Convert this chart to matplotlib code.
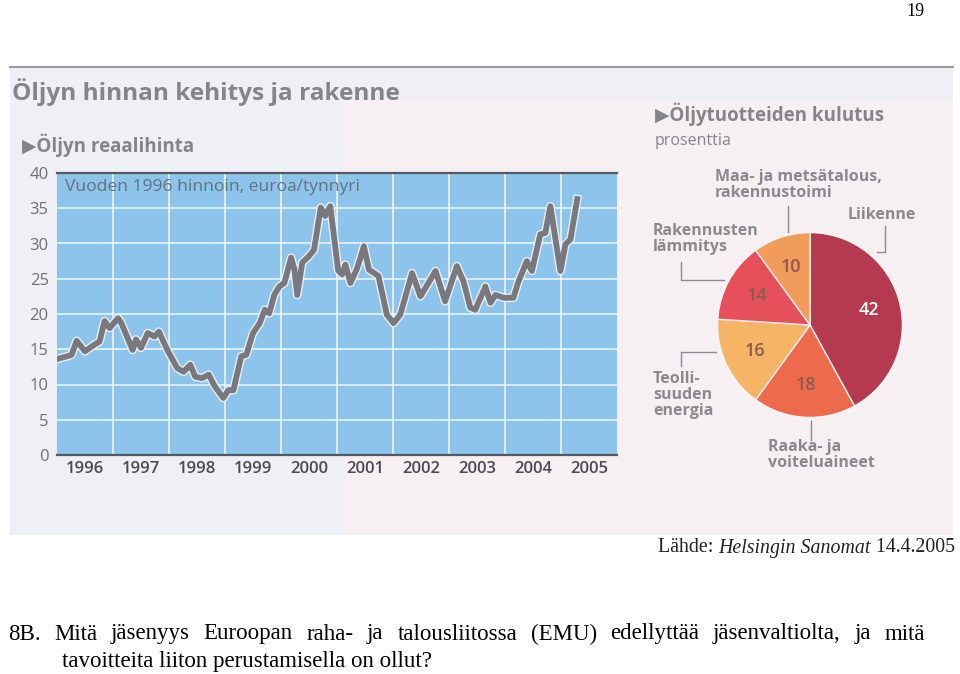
import numpy as np
import matplotlib
matplotlib.use('Agg')
import matplotlib.pyplot as plt
import matplotlib.patheffects as pe
from matplotlib.patches import Rectangle
from matplotlib.lines import Line2D

years = [1996.04, 1996.18, 1996.26, 1996.35, 1996.50, 1996.62, 1996.76, 1996.85, 1996.94,
         1997.09, 1997.15, 1997.35, 1997.41, 1997.50, 1997.62, 1997.74, 1997.82, 1997.97,
         1998.15, 1998.26, 1998.38, 1998.47, 1998.59, 1998.71, 1998.82, 1998.97,
         1999.06, 1999.15, 1999.29, 1999.38, 1999.50, 1999.62, 1999.71, 1999.79, 1999.88, 1999.97,
         2000.06, 2000.18, 2000.24, 2000.29, 2000.38, 2000.50, 2000.59, 2000.71, 2000.79, 2000.88,
         2001.02, 2001.09, 2001.15, 2001.24, 2001.36, 2001.48, 2001.57, 2001.74, 2001.89,
         2002.01, 2002.13, 2002.34, 2002.49, 2002.76, 2002.93,
         2003.14, 2003.26, 2003.38, 2003.47, 2003.65, 2003.74, 2003.83, 2003.98,
         2004.15, 2004.24, 2004.39, 2004.48, 2004.63, 2004.72, 2004.81, 2004.99,
         2005.08, 2005.17, 2005.29]
price = [13.7, 14.0, 14.2, 16.2, 14.7, 15.4, 16.1, 19.0, 18.0,
         19.4, 18.7, 14.9, 16.4, 15.2, 17.3, 16.8, 17.5, 14.9,
         12.3, 11.8, 12.8, 11.1, 10.9, 11.4, 9.7, 8.1,
         9.2, 9.2, 14.0, 14.2, 17.3, 18.7, 20.6, 20.1, 22.7, 23.9,
         24.4, 28.0, 26.3, 22.7, 27.3, 28.2, 29.1, 35.1, 33.9, 35.3,
         26.2, 25.6, 27.0, 24.4, 26.5, 29.6, 26.3, 25.4, 19.9,
         18.7, 19.9, 25.8, 22.5, 26.1, 21.8,
         26.8, 24.6, 20.9, 20.6, 23.9, 21.6, 22.7, 22.3,
         22.3, 24.6, 27.5, 26.1, 31.3, 31.5, 35.3, 26.1,
         29.9, 30.6, 36.3]
year_labels = ['1996', '1997', '1998', '1999', '2000', '2001', '2002', '2003', '2004', '2005']
y_ticks = [0, 5, 10, 15, 20, 25, 30, 35, 40]

# oil product consumption, percent
pie_names = ['Liikenne', 'Raaka- ja\nvoiteluaineet', 'Teolli-\nsuuden\nenergia',
             'Rakennusten\nlämmitys', 'Maa- ja metsätalous,\nrakennustoimi']
pie_values = [42, 18, 16, 14, 10]
pie_colors = ['#b53a50', '#ee6a4c', '#f5b466', '#e6505a', '#f29c5c']

W, H = 960, 674
SANS = ['Open Sans', 'DejaVu Sans']
SERIF = ['Liberation Serif', 'DejaVu Serif']


def fx(x):
    return x / W


def fy(y):
    return 1 - y / H


def main():
    fig = plt.figure(figsize=(W / 100, H / 100), dpi=100)
    fig.patch.set_facecolor('white')

    # scanned panel background
    fig.add_artist(Rectangle((fx(10), fy(535)), fx(943), 468 / H, transform=fig.transFigure,
                             facecolor='#eef0f6', edgecolor='none', zorder=0))
    fig.add_artist(Rectangle((fx(345), fy(535)), fx(608), 435 / H, transform=fig.transFigure,
                             facecolor='#f6f0f3', edgecolor='none', zorder=0))
    fig.add_artist(Line2D([fx(10), fx(953)], [fy(67), fy(67)], transform=fig.transFigure,
                          color='#9a9aa0', lw=1.5))

    grey = '#858589'
    fig.text(fx(12), fy(92), 'Öljyn hinnan kehitys ja rakenne', family=SANS, weight='bold',
             fontsize=17.6, color=grey, va='center', ha='left')
    fig.text(fx(22), fy(145), '▶Öljyn reaalihinta', family=SANS, weight='bold',
             fontsize=13.5, color=grey, va='center', ha='left')

    # line chart
    ax = fig.add_axes([fx(57), fy(455), fx(560), 282 / H])
    ax.set_facecolor('#8cc4ec')
    ax.set_xlim(1996, 2006)
    ax.set_ylim(0, 40)
    ax.set_yticks(y_ticks)
    ax.set_yticklabels([str(t) for t in y_ticks], family=SANS, fontsize=12, color='#707074')
    ax.set_xticks(np.arange(1996, 2006) + 0.5)
    ax.set_xticklabels(year_labels, family=SANS, fontsize=12, color='#4a4a50', weight='semibold')
    ax.tick_params(axis='both', which='both', length=0)
    ax.tick_params(axis='y', pad=6)
    ax.tick_params(axis='x', pad=4)
    for t in y_ticks[1:-1]:
        ax.axhline(t, color='white', lw=1.2, alpha=0.8, zorder=1)
    for yr in range(1997, 2006):
        ax.axvline(yr, color='white', lw=1.2, alpha=0.8, zorder=1)
    for s in ['left', 'right']:
        ax.spines[s].set_visible(False)
    for s in ['top', 'bottom']:
        ax.spines[s].set_color('#555a60')
        ax.spines[s].set_linewidth(1.6)
    ax.plot(years, price, color='#78787e', lw=4.2, solid_joinstyle='round', zorder=3,
            path_effects=[pe.Stroke(linewidth=6.2, foreground='#e8eef6'), pe.Normal()])
    ax.text(0.015, 0.95, 'Vuoden 1996 hinnoin, euroa/tynnyri', transform=ax.transAxes,
            family=SANS, fontsize=12.6, color='#66707e', va='center', ha='left', zorder=4)

    # pie chart
    fig.text(fx(655), fy(114), '▶Öljytuotteiden kulutus', family=SANS, weight='bold',
             fontsize=13.5, color=grey, va='center', ha='left')
    fig.text(fx(655), fy(141), 'prosenttia', family=SANS, fontsize=11.5, color=grey,
             va='center', ha='left')
    pax = fig.add_axes([fx(715), fy(420), fx(190), 190 / H])
    wedges, texts, autotexts = pax.pie(
        pie_values, colors=pie_colors, startangle=90, counterclock=False,
        autopct=lambda p: f'{p:.0f}', pctdistance=0.65,
        wedgeprops=dict(edgecolor='#f4eef0', linewidth=1.0),
        textprops=dict(family=SANS, fontsize=13, weight='semibold', color='#8c5a50'))
    autotexts[0].set_color('white')
    pax.add_patch(plt.Circle((0, 0), 1.0, fill=False, edgecolor='#f8f2f4', lw=2.0))
    pax.set_xlim(-1.02, 1.02)
    pax.set_ylim(-1.02, 1.02)
    pax.set_aspect('equal')
    pax.axis('off')

    lab = dict(family=SANS, weight='bold', fontsize=11.5, color='#8a8a8e',
               ha='left', va='top', linespacing=1.0)
    fig.text(fx(848), fy(207), pie_names[0], **lab)
    fig.text(fx(768), fy(439), pie_names[1], **lab)
    fig.text(fx(653), fy(371), pie_names[2], **lab)
    fig.text(fx(653), fy(223), pie_names[3], **lab)
    fig.text(fx(715), fy(169), pie_names[4], **lab)

    def leader(xs, ys):
        fig.add_artist(Line2D([fx(x) for x in xs], [fy(y) for y in ys],
                              transform=fig.transFigure, color='#8a8a90', lw=1.0))
    leader([788, 788], [206, 232])
    leader([885, 885, 877], [226, 252, 252])
    leader([681, 681, 724], [262, 280, 280])
    leader([681, 681, 716], [366, 352, 352])
    leader([811, 811], [421, 440])

    # source line
    renderer = fig.canvas.get_renderer()
    x = 658
    for txt, style in [('Lähde: ', 'normal'), ('Helsingin Sanomat', 'italic'), (' 14.4.2005', 'normal')]:
        t = fig.text(fx(x), fy(548), txt, family=SERIF, style=style, fontsize=14.3,
                     color='#222222', va='center', ha='left')
        x += t.get_window_extent(renderer).width

    # question text, first line justified
    words = '8B. Mitä jäsenyys Euroopan raha- ja talousliitossa (EMU) edellyttää jäsenvaltiolta, ja mitä'.split()
    arts = [fig.text(0, fy(634), w, family=SERIF, fontsize=16.5, color='black',
                     va='center', ha='left') for w in words]
    widths = [a.get_window_extent(renderer).width for a in arts]
    left, right = 8, 925
    gap = (right - left - sum(widths)) / (len(words) - 1)
    x = left
    for a, w in zip(arts, widths):
        a.set_x(fx(x))
        x += w + gap
    fig.text(fx(62), fy(661), 'tavoitteita liiton perustamisella on ollut?', family=SERIF,
             fontsize=16.5, color='black', va='center', ha='left')

    fig.text(fx(906), fy(11), '19', family=SERIF, fontsize=13, color='black',
             va='center', ha='left')

    fig.savefig('out.png', dpi=100)


if __name__ == '__main__':
    main()
